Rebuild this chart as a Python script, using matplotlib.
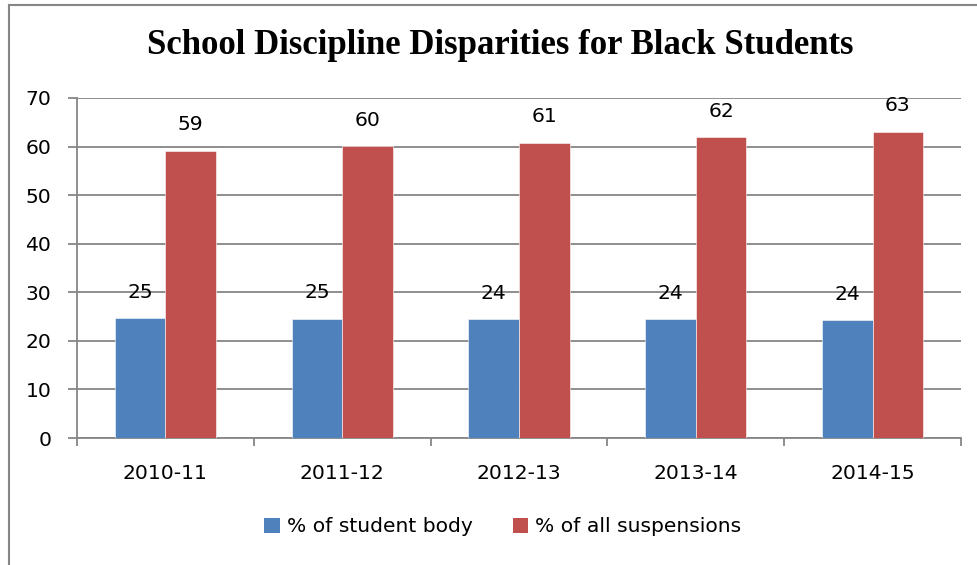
import matplotlib
matplotlib.use("Agg")
import matplotlib.pyplot as plt
from matplotlib.lines import Line2D
from matplotlib.patches import Patch
import numpy as np

categories = ["2010-11", "2011-12", "2012-13", "2013-14", "2014-15"]
student_body = [24.7, 24.6, 24.4, 24.4, 24.2]
suspensions = [59.1, 60.1, 60.8, 61.9, 63.0]
student_labels = ["25", "25", "24", "24", "24"]
susp_labels = ["59", "60", "61", "62", "63"]
series_names = ["% of student body", "% of all suspensions"]

blue = "#4F81BD"
red = "#C0504D"
gray = "#868686"
font = ["DejaVu Sans"]
fs = 14.6

W, H = 977, 565
fig = plt.figure(figsize=(W / 100, H / 100), dpi=100)
ax = fig.add_axes([77 / W, (H - 438) / H, 884 / W, 340 / H])

x = np.arange(len(categories))
bw = 1 / 3.5
b1 = ax.bar(x - bw / 2, student_body, bw, color=blue, edgecolor="white", linewidth=0.4, zorder=3)
b2 = ax.bar(x + bw / 2, suspensions, bw, color=red, edgecolor="white", linewidth=0.4, zorder=3)

for rects, labs in ((b1, student_labels), (b2, susp_labels)):
    for r, lab in zip(rects, labs):
        ax.annotate(lab, (r.get_x() + r.get_width() / 2, r.get_height()),
                    xytext=(0, 26), textcoords="offset pixels",
                    ha="center", va="center", fontsize=fs, family=font, zorder=4)

ax.set_xlim(-0.5, len(categories) - 0.5)
ax.set_ylim(0, 70)
ax.set_yticks(range(0, 71, 10))
ax.yaxis.grid(True, color=gray, linewidth=1.3, zorder=0)
ax.set_axisbelow(True)
for s in ("top", "right"):
    ax.spines[s].set_visible(False)
for s in ("left", "bottom"):
    ax.spines[s].set_color(gray)
    ax.spines[s].set_linewidth(1.3)

ax.set_xticks(x)
ax.set_xticklabels(categories, family=font, fontsize=fs)
ax.tick_params(axis="x", length=0, pad=18.5)
ax.set_xticks(np.arange(-0.5, len(categories)), minor=True)
ax.tick_params(axis="x", which="minor", length=6, width=1.3, color=gray)
ax.tick_params(axis="y", length=6.5, width=1.3, color=gray, pad=12, labelsize=fs)
for t in ax.get_yticklabels():
    t.set_family(font)

fig.text(500 / W, 1 - 46 / H, "School Discipline Disparities for Black Students",
         ha="center", va="center", fontsize=25, fontweight="bold",
         family=["Liberation Serif", "DejaVu Serif"])

handles = [Patch(facecolor=blue), Patch(facecolor=red)]
fig.legend(handles, series_names, loc="center", bbox_to_anchor=(503 / W, 1 - 527 / H),
           ncol=2, frameon=False, prop={"family": font, "size": fs},
           handlelength=0.75, handleheight=0.75, handletextpad=0.35, columnspacing=2.0)

fig.add_artist(Line2D([8.5 / W, 8.5 / W], [0, 1 - 5 / H], color=gray, linewidth=1.5,
                      transform=fig.transFigure))
fig.add_artist(Line2D([8.5 / W, 1], [1 - 5 / H, 1 - 5 / H], color=gray, linewidth=1.5,
                      transform=fig.transFigure))

fig.savefig("out.png", dpi=100)
